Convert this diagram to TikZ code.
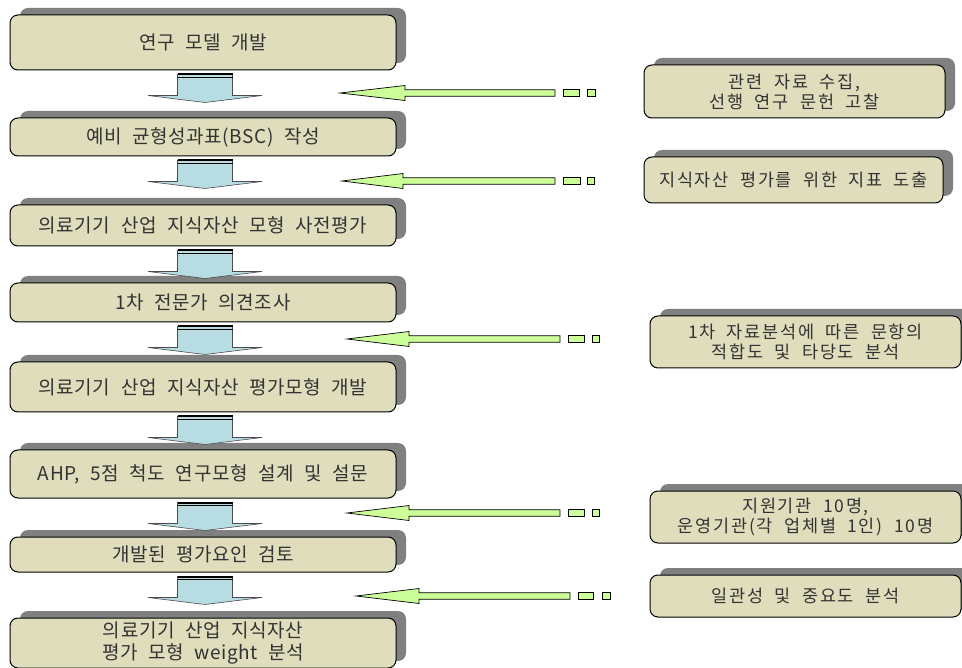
\documentclass[tikz,border=0pt]{standalone}
\usepackage{fontspec}
\setmainfont{Noto Sans CJK KR}[LetterSpace=3, WordSpace=2.2]
\newfontfamily\sidefont{Noto Sans CJK KR}[LetterSpace=10, WordSpace=2.0]
\usetikzlibrary{shadows,calc}
\definecolor{boxfill}{HTML}{DFDDBB}
\definecolor{shadowgray}{HTML}{808080}
\definecolor{arrblue}{HTML}{B7DDE2}
\definecolor{arrgreen}{HTML}{CCFF99}
\tikzset{
  flowbox/.style={draw=black, line width=1pt, fill=boxfill, rounded corners=8pt,
    align=center, inner sep=0pt, text=black!80,
    font=\fontsize{19}{22}\selectfont,
    drop shadow={shadow xshift=10pt, shadow yshift=7pt, fill=shadowgray, opacity=1}},
  sidebox/.style={flowbox, font=\sidefont\fontsize{17.5}{20}\selectfont},
  blockarrow/.style={draw=black!70, fill=arrblue, line width=0.6pt},
  greenarrow/.style={draw=black, fill=arrgreen, line width=0.7pt},
}
\newcommand\downblock[2]{%
  \path[blockarrow] let \p1=(#1.south) in
    (\x1-25.5pt,\y1-4pt) -- (\x1-25.5pt,\y1-25pt) -- (\x1-55pt,\y1-25pt) --
    (\x1+2pt,\y1-32pt) -- (\x1+59pt,\y1-25pt) -- (\x1+29.5pt,\y1-25pt) --
    (\x1+29.5pt,\y1-4pt) -- cycle;
  \draw[line width=2pt] let \p1=(#1.south) in
    (\x1-25.5pt,\y1-4pt) -- (\x1+29.5pt,\y1-4pt);
  \draw[line width=0.7pt] let \p1=(#1.south) in
    (\x1-25.5pt,\y1-7pt) -- (\x1+29.5pt,\y1-7pt);
}
\newcommand\greenarr[8]{%
  \draw[greenarrow] (#2,#1) -- (#3,#1-7.5) -- (#3,#1-3.3) -- (#4,#1-3.3) --
    (#4,#1+3.3) -- (#3,#1+3.3) -- (#3,#1+7.5) -- cycle;
  \draw[greenarrow] (#5,#1-3.3) rectangle (#6,#1+3.3);
  \draw[greenarrow] (#7,#1-3.3) rectangle (#8,#1+3.3);
}
\begin{document}
\begin{tikzpicture}[x=1pt, y=-1pt]
\clip (0,0) rectangle (962,668);
\fill[white] (0,0) rectangle (962,668);

% main column
\node[flowbox, minimum width=386pt, minimum height=55pt] (b1) at (203,42.5) {연구 모델 개발};
\node[flowbox, minimum width=386pt, minimum height=38pt] (b2) at (203,137) {예비 균형성과표(BSC) 작성};
\node[flowbox, minimum width=386pt, minimum height=41pt] (b3) at (203,225.5) {의료기기 산업 지식자산 모형 사전평가};
\node[flowbox, minimum width=386pt, minimum height=39pt] (b4) at (203,302.5) {1차 전문가 의견조사};
\node[flowbox, minimum width=386pt, minimum height=50pt] (b5) at (203,387) {의료기기 산업 지식자산 평가모형 개발};
\node[flowbox, minimum width=386pt, minimum height=48pt] (b6) at (203,474) {AHP, 5점 척도 연구모형 설계 및 설문};
\node[flowbox, minimum width=386pt, minimum height=35pt] (b7) at (203,554.5) {개발된 평가요인 검토};
\node[flowbox, minimum width=386pt, minimum height=50pt] (b8) at (203,643) {의료기기 산업 지식자산\\평가 모형 weight 분석};

% side notes
\node[sidebox, minimum width=301pt, minimum height=53pt] (r1) at (794.5,91.5) {관련 자료 수집,\\선행 연구 문헌 고찰};
\node[sidebox, minimum width=299pt, minimum height=46pt] (r2) at (793.5,180) {지식자산 평가를 위한 지표 도출};
\node[sidebox, minimum width=311pt, minimum height=52pt] (r3) at (805.5,342) {1차 자료분석에 따른 문항의\\적합도 및 타당도 분석};
\node[sidebox, minimum width=311pt, minimum height=52pt] (r4) at (805.5,517) {지원기관 10명,\\운영기관(각 업체별 1인) 10명};
\node[sidebox, minimum width=311pt, minimum height=42pt] (r5) at (805.5,596) {일관성 및 중요도 분석};

% block arrows
\downblock{b1}{b2}
\downblock{b2}{b3}
\downblock{b3}{b4}
\downblock{b4}{b5}
\downblock{b5}{b6}
\downblock{b6}{b7}
\downblock{b7}{b8}

% green arrows
\greenarr{93}{340}{405}{555}{563}{579}{587}{595}
\greenarr{181}{342}{403}{555}{563}{580}{587}{594}
\greenarr{339}{347}{409}{560}{568}{584}{592}{599}
\greenarr{513}{347}{409}{560}{568}{584}{592}{599}
\greenarr{596}{356}{419}{570}{578}{593}{602}{610}
\end{tikzpicture}
\end{document}
